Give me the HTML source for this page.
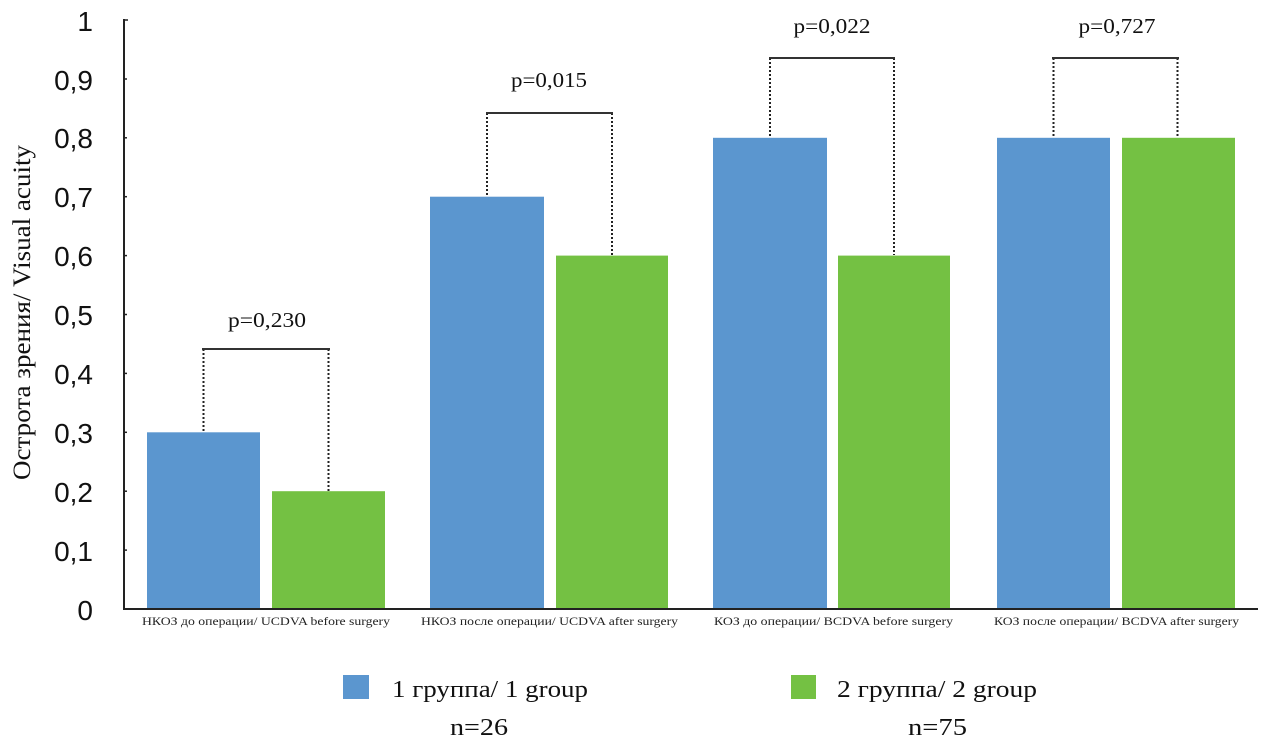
<!DOCTYPE html>
<html>
<head>
<meta charset="utf-8">
<style>
html,body{margin:0;padding:0;background:#fff;}
svg{display:block;}
</style>
</head>
<body>
<svg width="1270" height="753" viewBox="0 0 1270 753" xmlns="http://www.w3.org/2000/svg">
<rect x="0" y="0" width="1270" height="753" fill="#ffffff"/>

<!-- bars -->
<g>
<rect x="147" y="432.3" width="113" height="176.7" fill="#5b96cf"/>
<rect x="272" y="491.2" width="113" height="117.8" fill="#74c143"/>
<rect x="430" y="196.7" width="114" height="412.3" fill="#5b96cf"/>
<rect x="556" y="255.6" width="112" height="353.4" fill="#74c143"/>
<rect x="713" y="137.8" width="114" height="471.2" fill="#5b96cf"/>
<rect x="838" y="255.6" width="112" height="353.4" fill="#74c143"/>
<rect x="997" y="137.8" width="113" height="471.2" fill="#5b96cf"/>
<rect x="1122" y="137.8" width="113" height="471.2" fill="#74c143"/>
</g>

<!-- axes -->
<line x1="124" y1="19" x2="124" y2="609" stroke="#222" stroke-width="2"/>
<line x1="123" y1="609" x2="1258" y2="609" stroke="#222" stroke-width="2"/>
<g stroke="#222" stroke-width="1.5">
<line x1="124" y1="20" x2="128" y2="20"/>
<line x1="124" y1="79" x2="127" y2="79"/>
<line x1="124" y1="137.8" x2="127" y2="137.8"/>
<line x1="124" y1="196.7" x2="127" y2="196.7"/>
<line x1="124" y1="255.6" x2="127" y2="255.6"/>
<line x1="124" y1="314.5" x2="127" y2="314.5"/>
<line x1="124" y1="373.4" x2="127" y2="373.4"/>
<line x1="124" y1="432.3" x2="127" y2="432.3"/>
<line x1="124" y1="491.2" x2="127" y2="491.2"/>
<line x1="124" y1="550.1" x2="127" y2="550.1"/>
</g>

<!-- y tick labels -->
<g font-family="Liberation Sans, Arial, sans-serif" font-size="28" fill="#111" text-anchor="end">
<text x="93" y="31">1</text>
<text x="93" y="90">0,9</text>
<text x="93" y="148">0,8</text>
<text x="93" y="207">0,7</text>
<text x="93" y="266">0,6</text>
<text x="93" y="325">0,5</text>
<text x="93" y="384">0,4</text>
<text x="93" y="443">0,3</text>
<text x="93" y="502">0,2</text>
<text x="93" y="561">0,1</text>
<text x="93" y="620">0</text>
</g>

<!-- y axis title -->
<text transform="translate(30,480) rotate(-90)" font-family="Liberation Serif, 'Times New Roman', serif" font-size="25" fill="#111" textLength="335" lengthAdjust="spacingAndGlyphs">Острота зрения/ Visual acuity</text>

<!-- category labels -->
<g font-family="Liberation Serif, 'Times New Roman', serif" font-size="12" fill="#222">
<text x="142" y="625" textLength="248" lengthAdjust="spacingAndGlyphs">НКОЗ до операции/ UCDVA before surgery</text>
<text x="421" y="625" textLength="257" lengthAdjust="spacingAndGlyphs">НКОЗ после операции/ UCDVA after surgery</text>
<text x="714" y="625" textLength="239" lengthAdjust="spacingAndGlyphs">КОЗ до операции/ BCDVA before surgery</text>
<text x="994" y="625" textLength="245" lengthAdjust="spacingAndGlyphs">КОЗ после операции/ BCDVA after surgery</text>
</g>

<!-- brackets -->
<g stroke="#222" stroke-width="2" stroke-dasharray="2,2" fill="none">
<line x1="203.5" y1="349" x2="203.5" y2="432"/>
<line x1="328.5" y1="349" x2="328.5" y2="491"/>
<line x1="487" y1="113" x2="487" y2="196"/>
<line x1="612" y1="113" x2="612" y2="255"/>
<line x1="770" y1="58" x2="770" y2="137"/>
<line x1="894" y1="58" x2="894" y2="255"/>
<line x1="1053.5" y1="58" x2="1053.5" y2="137"/>
<line x1="1177.5" y1="58" x2="1177.5" y2="137"/>
</g>
<g stroke="#333" stroke-width="2">
<line x1="202" y1="349" x2="330" y2="349"/>
<line x1="486" y1="113" x2="613" y2="113"/>
<line x1="769" y1="58" x2="895" y2="58"/>
<line x1="1052" y1="58" x2="1179" y2="58"/>
</g>
<g font-family="Liberation Serif, 'Times New Roman', serif" font-size="21" fill="#111" text-anchor="middle">
<text x="267" y="327" textLength="78" lengthAdjust="spacingAndGlyphs">p=0,230</text>
<text x="549" y="87" textLength="76" lengthAdjust="spacingAndGlyphs">p=0,015</text>
<text x="832" y="33" textLength="77" lengthAdjust="spacingAndGlyphs">p=0,022</text>
<text x="1117" y="33" textLength="77" lengthAdjust="spacingAndGlyphs">p=0,727</text>
</g>

<!-- legend -->
<rect x="343" y="675" width="26" height="24" fill="#5b96cf"/>
<rect x="791" y="675" width="25" height="24" fill="#74c143"/>
<g font-family="Liberation Serif, 'Times New Roman', serif" font-size="24" fill="#111">
<text x="392" y="697" textLength="196" lengthAdjust="spacingAndGlyphs">1 группа/ 1 group</text>
<text x="837" y="697" textLength="200" lengthAdjust="spacingAndGlyphs">2 группа/ 2 group</text>
<text x="450" y="735" textLength="58" lengthAdjust="spacingAndGlyphs">n=26</text>
<text x="908" y="735" textLength="59" lengthAdjust="spacingAndGlyphs">n=75</text>
</g>
</svg>
</body>
</html>
